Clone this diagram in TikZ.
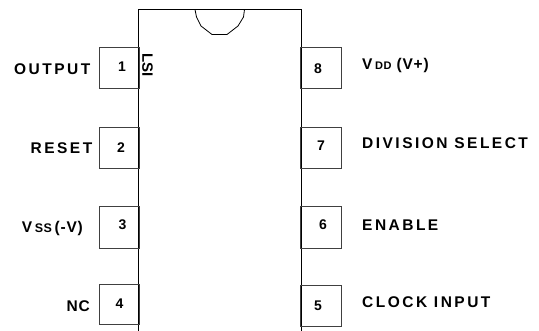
\documentclass[tikz,border=0pt]{standalone}
\usepackage{fontspec}
\setmainfont{Liberation Sans}
\tikzset{
  x=1pt,y=-1pt,
  pinbox/.style={draw=black!75,line width=0.9pt,minimum width=40pt,minimum height=40.5pt,inner sep=0pt},
  pinnum/.style={inner sep=0pt,font=\fontsize{14}{16}\selectfont\bfseries},
  pinlabel/.style={inner sep=0pt,font=\fontsize{15.5}{17}\selectfont\bfseries\addfontfeature{LetterSpace=16}},
  pinlabeltight/.style={inner sep=0pt,font=\fontsize{15.5}{17}\selectfont\bfseries\addfontfeature{LetterSpace=5}},
}
\begin{document}
\begin{tikzpicture}
  \useasboundingbox (0,0) rectangle (539,331);
  \begin{scope}[line width=0.8pt]
    \draw (138.5,331) -- (138.5,9.5) -- (301.5,9.5) -- (301.5,331);
    \draw (195,9.5) -- (196.5,17) -- (201,26) -- (212,34.5) -- (227,34.5) -- (238,26) -- (243.5,17) -- (244.5,9.5);
  \end{scope}
  \node[pinbox] (p1) at (119.7,68.2) {};
  \node[pinbox] (p2) at (119.7,148) {};
  \node[pinbox,minimum height=42pt] (p3) at (119.7,227) {};
  \node[pinbox] (p4) at (119.7,304.5) {};
  \node[pinbox,minimum width=41.5pt] (p8) at (321,68.2) {};
  \node[pinbox,minimum width=41.5pt] (p7) at (321,148) {};
  \node[pinbox,minimum width=41.5pt,minimum height=42pt] (p6) at (321,227) {};
  \node[pinbox,minimum width=41.5pt] (p5) at (321,306) {};
  \node[pinnum] (n1) at (122,66.5) {1};
  \node[pinnum] (n2) at (121,148) {2};
  \node[pinnum] (n3) at (122.5,225) {3};
  \node[pinnum] (n4) at (119.5,304) {4};
  \node[pinnum] (n8) at (318,69) {8};
  \node[pinnum] (n7) at (321,146) {7};
  \node[pinnum] (n6) at (323,225) {6};
  \node[pinnum] (n5) at (318,306) {5};
  \node[pinlabel,anchor=east] (output) at (90.5,69.5) {OUTPUT};
  \node[pinlabel,anchor=east] (reset) at (92.5,148.5) {RESET};
  \node[pinlabeltight,anchor=east] (vss) at (83,228) {V\,{\fontsize{12.5}{14}\selectfont SS}\,(-V)};
  \node[pinlabeltight,anchor=east] (nc) at (90,306) {NC};
  \node[pinlabeltight,anchor=west] (vdd) at (362,65) {V\,{\fontsize{11}{12}\selectfont DD} (V+)};
  \node[pinlabel,anchor=west] (divsel) at (362,143.5) {DIVISION SELECT};
  \node[pinlabel,anchor=west] (enable) at (362,225.5) {ENABLE};
  \node[pinlabel,anchor=west] (clock) at (362,302.5) {CLOCK INPUT};
  \node[rotate=-90,inner sep=0pt,font=\fontsize{15}{16}\selectfont\bfseries] (lsi) at (147.5,65) {LSI};
\end{tikzpicture}
\end{document}
